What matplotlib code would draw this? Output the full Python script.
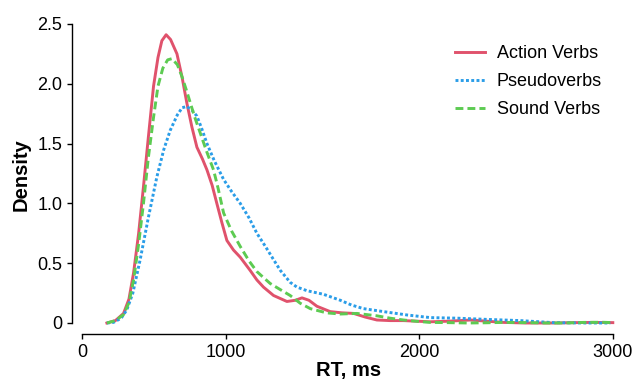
import matplotlib
matplotlib.use("Agg")
import matplotlib.pyplot as plt

# Courbes de densite (RT en ms, densite x1e-3)
action_x = [386, 430, 472, 500, 524, 550, 575, 600, 627, 650, 670, 692, 715, 748, 775, 799,
            825, 851, 880, 903, 930, 954, 980, 1006, 1040, 1075, 1126, 1161, 1195, 1247, 1316,
            1360, 1394, 1430, 1471, 1540, 1600, 1661, 1720, 1781, 1850, 1919, 2057, 2150, 2264,
            2350, 2434, 2550, 2700, 2800, 2899, 3000]
action_y = [0.0, 0.02, 0.08, 0.2, 0.42, 0.75, 1.14, 1.55, 1.98, 2.22, 2.36, 2.41, 2.37, 2.25,
            2.05, 1.84, 1.64, 1.47, 1.37, 1.28, 1.15, 1.0, 0.84, 0.69, 0.61, 0.55, 0.44, 0.36,
            0.30, 0.23, 0.18, 0.19, 0.21, 0.19, 0.14, 0.095, 0.085, 0.08, 0.05, 0.025, 0.02,
            0.02, 0.01, 0.015, 0.025, 0.015, 0.005, 0.0, 0.0, 0.003, 0.005, 0.003]

pseudo_x = [386, 420, 460, 489, 520, 558, 600, 644, 680, 713, 750, 775, 799, 825, 851, 875,
            903, 940, 989, 1030, 1075, 1120, 1161, 1205, 1247, 1282, 1333, 1368, 1420, 1505,
            1592, 1650, 1712, 1816, 1937, 2057, 2200, 2350, 2522, 2693, 2850, 2987]
pseudo_y = [0.0, 0.005, 0.04, 0.11, 0.25, 0.53, 0.88, 1.22, 1.45, 1.61, 1.74, 1.80, 1.81, 1.78,
            1.73, 1.63, 1.50, 1.36, 1.20, 1.10, 1.0, 0.88, 0.75, 0.64, 0.53, 0.44, 0.34, 0.30,
            0.27, 0.24, 0.19, 0.15, 0.12, 0.095, 0.067, 0.045, 0.04, 0.03, 0.02, 0.003, 0.0, 0.0]

sound_x = [386, 430, 472, 500, 524, 550, 575, 600, 627, 650, 675, 700, 722, 750, 774, 800,
           817, 840, 868, 900, 937, 960, 989, 1030, 1075, 1120, 1161, 1195, 1230, 1281, 1333,
           1385, 1437, 1520, 1592, 1678, 1730, 1781, 1850, 1919, 2000, 2057, 2150, 2250, 2350,
           2434, 2550, 2650, 2750, 2850, 2950, 3000]
sound_y = [0.0, 0.02, 0.07, 0.17, 0.36, 0.66, 1.0, 1.38, 1.72, 1.98, 2.13, 2.20, 2.21, 2.16,
           2.06, 1.93, 1.84, 1.72, 1.59, 1.44, 1.28, 1.13, 0.92, 0.77, 0.64, 0.52, 0.43, 0.38,
           0.33, 0.28, 0.23, 0.165, 0.12, 0.085, 0.075, 0.08, 0.07, 0.06, 0.04, 0.025, 0.012,
           0.005, 0.003, 0.0, 0.002, 0.005, 0.003, 0.0, 0.0, 0.005, 0.006, 0.003]

labels = ["Action Verbs", "Pseudoverbs", "Sound Verbs"]
x_ticks = [258, 1000, 2000, 3000]
x_tick_labels = ["0", "1000", "2000", "3000"]
y_ticks = [0, 0.5, 1.0, 1.5, 2.0, 2.5]
y_tick_labels = ["0", "0.5", "1.0", "1.5", "2.0", "2.5"]

plt.rcParams["font.family"] = ["Liberation Sans", "DejaVu Sans"]

fig = plt.figure(figsize=(6.35, 3.82), dpi=100)
ax = fig.add_axes([72 / 635, 1 - 334 / 382, (625 - 72) / 635, (334 - 15) / 382])

ax.plot(action_x, action_y, color="#E0526C", lw=2.1, label=labels[0])
ax.plot(pseudo_x, pseudo_y, color="#2A9DE8", lw=2.1, ls=(0, (1, 0.8)), label=labels[1])
ax.plot(sound_x, sound_y, color="#5DCB52", lw=2.1, ls=(0, (2.7, 1.4)), label=labels[2])

ax.set_xlim(205.7, 3063)
ax.set_ylim(-0.092, 2.575)

ax.spines["top"].set_visible(False)
ax.spines["right"].set_visible(False)
ax.spines["left"].set_bounds(0, 2.5)
ax.spines["bottom"].set_bounds(x_ticks[0], x_ticks[-1])
for s in ["left", "bottom"]:
    ax.spines[s].set_linewidth(1.0)

ax.set_xticks(x_ticks)
ax.set_xticklabels(x_tick_labels)
ax.set_yticks(y_ticks)
ax.set_yticklabels(y_tick_labels)
ax.tick_params(labelsize=13, length=3.6, width=1.0, pad=3.5, colors="black")

ax.set_xlabel("RT, ms", fontsize=14.5, fontweight="bold", labelpad=0)
ax.set_ylabel("Density", fontsize=14.5, fontweight="bold", labelpad=5)

ax.legend(loc="upper left", bbox_to_anchor=(455 / 635, 1 - 45 / 382),
          bbox_transform=fig.transFigure, frameon=False, fontsize=13,
          handlelength=1.67, handletextpad=0.65, labelspacing=0.62,
          borderpad=0, borderaxespad=0)

fig.savefig("out.png", dpi=100)
